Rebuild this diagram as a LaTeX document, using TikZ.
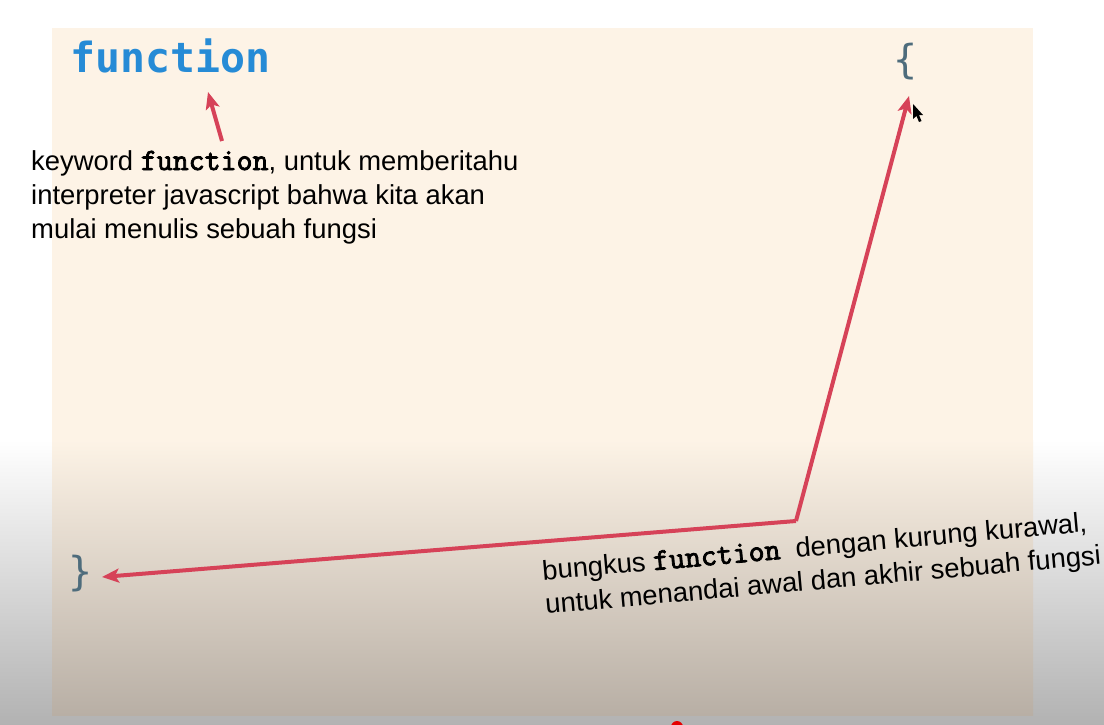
\documentclass[tikz,border=0pt]{standalone}
\usepackage{fontspec}
\setmainfont{Liberation Sans}
\newfontfamily\codefont{DejaVu Sans Mono}
\newfontfamily\kwfont[FakeBold=2.6]{Latin Modern Mono}
\usetikzlibrary{arrows.meta}
\definecolor{panel}{RGB}{253,243,230}
\definecolor{paneldark}{RGB}{184,175,165}
\definecolor{margindark}{RGB}{178,178,178}
\definecolor{kwblue}{RGB}{38,139,214}
\definecolor{bracecol}{RGB}{78,108,124}
\definecolor{arrowred}{RGB}{214,66,88}
\tikzset{
  note/.style={inner sep=0pt, align=left, font=\fontsize{27.4}{34}\selectfont},
  code/.style={inner sep=0pt, font=\codefont\bfseries\fontsize{41.5}{42}\selectfont, text=kwblue},
  brace/.style={inner sep=0pt, font=\codefont\fontsize{40}{40}\selectfont, text=bracecol},
  pointer/.style={draw=arrowred, line width=4pt,
    -{Stealth[length=17pt, width=14pt, inset=4pt]}},
}
\newcommand{\kw}[1]{{\kwfont\fontsize{31}{34}\selectfont #1}}
\begin{document}
\begin{tikzpicture}[x=1pt, y=-1pt]
  \useasboundingbox (0,0) rectangle (1104,725);
  % page background, greying towards the bottom edge
  \fill[white] (0,0) rectangle (1104,440);
  \shade[top color=white, bottom color=margindark] (0,440) rectangle (1104,725);
  % slide panel
  \fill[panel] (52,28) rectangle (1033,440);
  \shade[top color=panel, bottom color=paneldark] (52,440) rectangle (1033,715);

  % code fragments
  \node[code, anchor=base west] (kw) at (70,73) {function};
  \node[brace, anchor=base west] (open) at (893,74) {\{};
  \node[brace, anchor=base west] (close) at (68,585) {\}};

  % annotations (base anchor sits on the last line)
  \node[note, anchor=base west] (n1) at (31,238)
    {keyword \kw{function}, untuk memberitahu\\
     interpreter javascript bahwa kita akan\\
     mulai menulis sebuah fungsi};
  \node[note, anchor=base west, rotate=5.1] (n2) at (546,614)
    {bungkus \kw{function}\ \ dengan kurung kurawal,\\
     untuk menandai awal dan akhir sebuah fungsi};

  % connector ends
  \coordinate (a1) at (222,141);
  \coordinate (t1) at (208,92);
  \coordinate (t2) at (909,96);
  \coordinate (bend) at (796,521);
  \coordinate (t3) at (102,577);

  \draw[pointer] (a1) -- (t1);
  \draw[pointer] (bend) -- (t2);
  \draw[pointer] (bend) -- (t3);

  % mouse pointer
  \fill[black] (913,104) -- (913,119) -- (916.5,116) -- (919,122) -- (921.5,121)
    -- (919,115) -- (923,115) -- cycle;

  % red marker at the bottom edge
  \fill[red!90!black] (677,727) circle (6);
\end{tikzpicture}
\end{document}
